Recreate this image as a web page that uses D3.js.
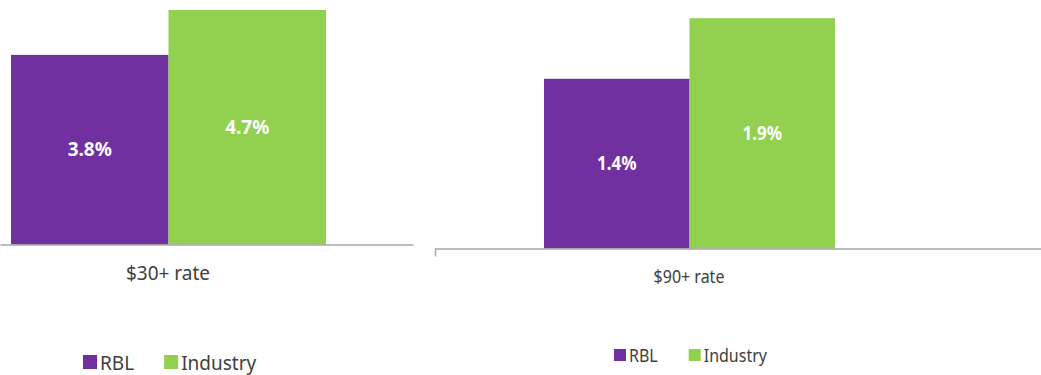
<!DOCTYPE html>
<html>
<head>
<meta charset="utf-8">
<script src="https://cdn.jsdelivr.net/npm/d3@7"></script>
<style>
  body { margin: 0; background: #fff; }
  svg { display: block; }
  text { font-family: "Noto Sans", "Open Sans", sans-serif; }
</style>
</head>
<body>
<div id="chart"></div>
<script>
var categories = ["$30+ rate", "$90+ rate"];
var series = ["RBL", "Industry"];
var rblValues = [3.8, 1.4];
var industryValues = [4.7, 1.9];

var colors = {RBL: "#7030a0", Industry: "#92d050"};

// each panel is its own little excel chart, pasted side by side
// (the right one was squashed a bit horizontally, hence stretch)
var panels = [
    {barX: [11, 326], axisX: [0, 413], base: 244.5, yMax: 4.9, outerTick: 0, labelX: 168,
     labelY: 280, font: 19, valFont: 19, legendX: 83, legendY: 370, legendFont: 19, sw: 14, gap: 30, stretch: 1},
    {barX: [544, 835], axisX: [435, 1042], base: 248.5, yMax: 2.05, outerTick: 8, labelX: 689,
     labelY: 283, font: 16, valFont: 17, legendX: 614, legendY: 362, legendFont: 16, sw: 12, gap: 31, stretch: 1.15}
];

var svg = d3.select("#chart")
    .append("svg")
    .attr("width", 1041)
    .attr("height", 375);

function place(sel, x, y, s) {
    sel.attr("transform", "translate(" + x + "," + y + ") scale(1," + s + ")");
}

panels.forEach(function (p, i) {
    var data = [
        {key: "RBL", value: rblValues[i]},
        {key: "Industry", value: industryValues[i]}
    ];

    var x = d3.scaleBand().domain(series).range(p.barX).padding(0);
    var y = d3.scaleLinear().domain([0, p.yMax]).range([p.base, 0]);
    var xCat = d3.scaleBand().domain([categories[i]]).range(p.axisX);

    var g = svg.append("g");

    g.selectAll(".bar")
        .data(data)
        .enter().append("rect")
        .attr("class", "bar")
        .attr("x", d => x(d.key))
        .attr("width", x.bandwidth())
        .attr("y", d => y(d.value))
        .attr("height", d => y(0) - y(d.value))
        .attr("fill", d => colors[d.key]);

    g.selectAll(".val")
        .data(data)
        .enter().append("text")
        .attr("class", "val")
        .attr("transform", d => "translate(" + (x(d.key) + x.bandwidth() / 2) + "," +
            ((y(d.value) + y(0)) / 2) + ") scale(1," + p.stretch + ")")
        .attr("dy", "0.35em")
        .attr("text-anchor", "middle")
        .attr("fill", "#fff")
        .style("font-weight", "bold")
        .style("font-size", p.valFont + "px")
        .text(d => d3.format(".1f")(d.value) + "%");

    // category axis, label drawn by hand so it can sit lower
    var axis = g.append("g")
        .attr("transform", "translate(0," + p.base + ")")
        .call(d3.axisBottom(xCat).tickSize(0).tickSizeOuter(p.outerTick).tickFormat(""));
    axis.select(".domain").attr("stroke", "#a6a6a6").attr("stroke-width", 1.5);

    g.append("text")
        .call(place, p.labelX, p.labelY, p.stretch)
        .attr("text-anchor", "middle")
        .attr("fill", "#404040")
        .style("font-size", p.font + "px")
        .text(categories[i]);

    // legend
    var lx = p.legendX;
    series.forEach(function (s) {
        g.append("rect")
            .attr("x", lx)
            .attr("y", p.legendY - p.sw - 1)
            .attr("width", p.sw)
            .attr("height", p.sw)
            .attr("fill", colors[s]);
        var t = g.append("text")
            .call(place, lx + p.sw + 3, p.legendY, p.stretch)
            .attr("fill", "#404040")
            .style("font-size", p.legendFont + "px")
            .text(s);
        lx += p.sw + 3 + t.node().getComputedTextLength() + p.gap;
    });
});
</script>
</body>
</html>
